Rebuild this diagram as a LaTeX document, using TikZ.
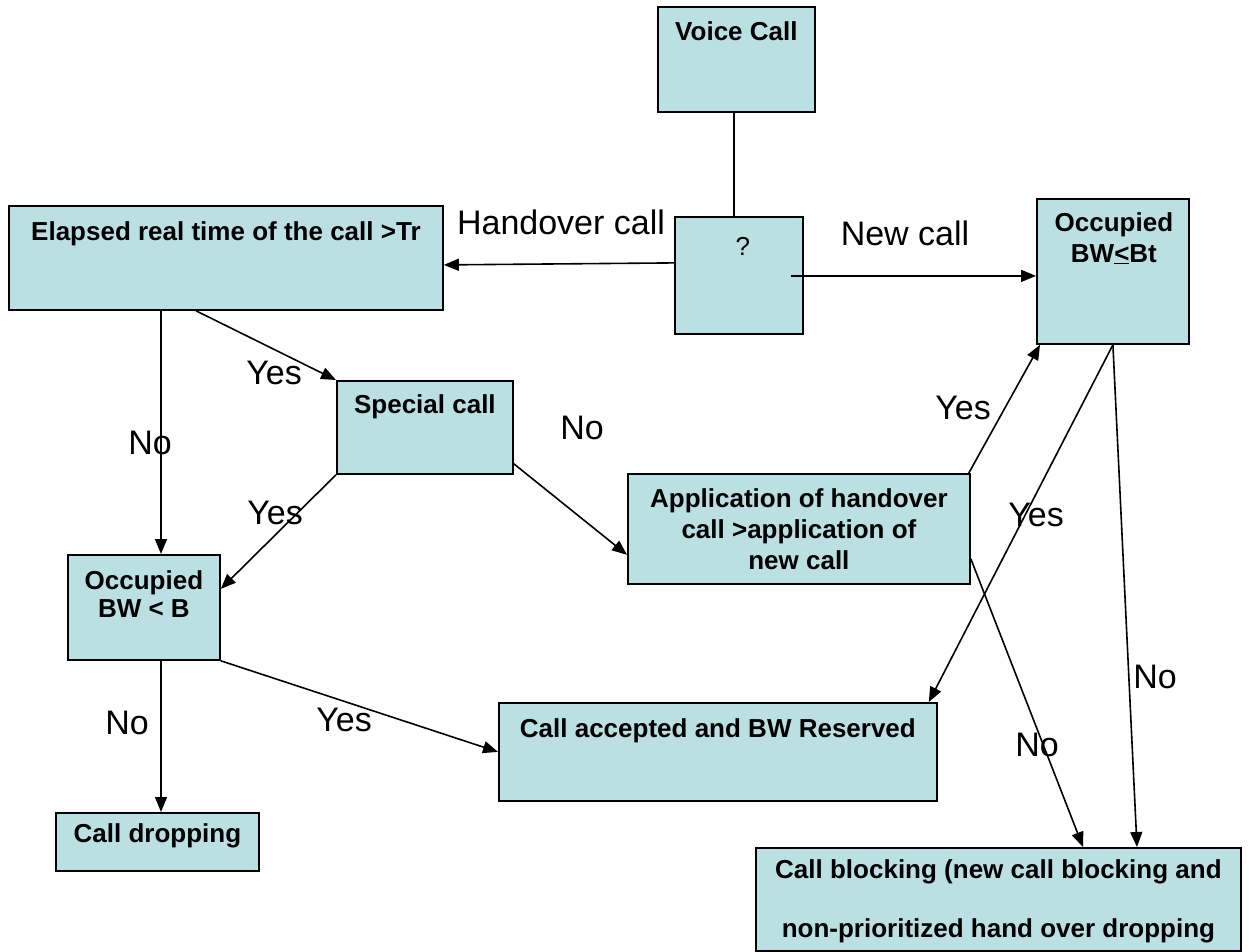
\documentclass[tikz,border=0pt]{standalone}
\usepackage{fontspec}
\setmainfont{Liberation Sans}
\usetikzlibrary{arrows.meta,calc}
\definecolor{boxfill}{RGB}{187,224,227}
\begin{document}
\begin{tikzpicture}[x=1pt,y=-1pt,
  box/.style={draw=black,line width=1.8pt,fill=boxfill,inner sep=0pt,anchor=north west},
  boxtext/.style={anchor=north,inner sep=0pt,align=center,font=\fontsize{26}{31}\selectfont\bfseries},
  lbl/.style={inner sep=0pt,font=\fontsize{34}{40}\selectfont},
  conn/.style={line width=1.6pt,draw=black},
  arr/.style={conn,-{Triangle[length=15pt,width=12pt]}}]
\useasboundingbox (0,0) rectangle (1249,952);

% boxes
\node[box,minimum width=157pt,minimum height=105pt] (voice) at (657,6) {};
\node[box,minimum width=128pt,minimum height=117pt] (q) at (674,216) {};
\node[box,minimum width=434pt,minimum height=104pt] (elapsed) at (8,205) {};
\node[box,minimum width=152pt,minimum height=145pt] (occt) at (1036,198) {};
\node[box,minimum width=176pt,minimum height=93pt] (special) at (336,380) {};
\node[box,minimum width=342pt,minimum height=110pt] (appl) at (627,473) {};
\node[box,minimum width=152pt,minimum height=105pt] (occb) at (67,554) {};
\node[box,minimum width=438pt,minimum height=98pt] (accepted) at (498,702) {};
\node[box,minimum width=203pt,minimum height=58pt] (dropping) at (55,812) {};
\node[box,minimum width=485pt,minimum height=103pt] (blocking) at (755,847) {};

% box texts
\node[boxtext] (tvoice) at ($(voice.north)+(0,15)$) {Voice Call};
\node[boxtext,font=\fontsize{26}{31}\selectfont] (tq) at ($(q.north)+(4,21)$) {?};
\node[boxtext] (telapsed) at ($(elapsed.north)+(0,16)$) {Elapsed real time of the call >Tr};
\node[boxtext] (toctt) at ($(occt.north)+(1,14)$) {Occupied\\ BW\underline{<}Bt};
\node[boxtext] (tspecial) at ($(special.north)+(0,14)$) {Special call};
\node[boxtext] (tappl) at ($(appl.north)+(0,15)$) {Application of handover\\ call >application of\\ new call};
\node[boxtext,font=\fontsize{26}{28}\selectfont\bfseries] (toccb) at ($(occb.north)+(0,16)$) {Occupied\\ BW < B};
\node[boxtext] (taccepted) at ($(accepted.north)+(0,16)$) {Call accepted and BW Reserved};
\node[boxtext] (tdropping) at ($(dropping.north)+(0,11)$) {Call dropping};
\node[boxtext,font=\fontsize{26}{59}\selectfont\bfseries] (tblocking) at ($(blocking.north)+(0,12)$) {Call blocking (new call blocking and\\ non-prioritized hand over dropping};

% connectors
\draw[conn] ($(voice.south)+(-2.5,0)$) -- ($(q.north)+(-5,0)$);
\draw[arr] ($(q.west)+(0,-12.5)$) -- ($(elapsed.east)+(0,7)$);
\coordinate (newstart) at ($(q.center)+(52,0.5)$);
\draw[arr] (newstart) -- ($(occt.west)+(0,4.5)$);
\coordinate (elno) at ($(elapsed.south west)+(153,0)$);
\draw[arr] (elno) -- (elno |- occb.north);
\draw[arr] ($(elapsed.south west)+(188,0)$) -- (special.north west);
\draw[arr] (special.south west) -- ($(occb.east)+(0,-18.5)$);
\draw[arr] ($(special.south east)+(0,-11)$) -- ($(appl.south west)+(0,-30)$);
\draw[arr] ($(appl.north east)+(-2,0)$) -- ($(occt.south west)+(4,0)$);
\draw[arr] (occt.south) -- ($(accepted.north east)+(-9,0)$);
\draw[arr] (occt.south) -- ($(blocking.north west)+(382,0)$);
\draw[arr] ($(appl.south east)+(0,-26)$) -- ($(blocking.north west)+(328,0)$);
\coordinate (obno) at ($(occb.south west)+(94,0)$);
\draw[arr] (obno) -- (obno |- dropping.north);
\draw[arr] (occb.south east) -- (accepted.west);

% connector labels
\node[lbl] (lhand) at (561,222) {Handover call};
\node[lbl] (lnew) at (905,233) {New call};
\node[lbl] (ly1) at (274,373) {Yes};
\node[lbl] (ln1) at (150,443) {No};
\node[lbl] (ln2) at (582,428) {No};
\node[lbl] (ly2) at (275,513) {Yes};
\node[lbl] (ly3) at (963,408) {Yes};
\node[lbl] (ly4) at (1036,515) {Yes};
\node[lbl] (ln3) at (1155,677) {No};
\node[lbl] (ln4) at (1037,745) {No};
\node[lbl] (ln5) at (127,723) {No};
\node[lbl] (ly5) at (344,720) {Yes};
\end{tikzpicture}
\end{document}
